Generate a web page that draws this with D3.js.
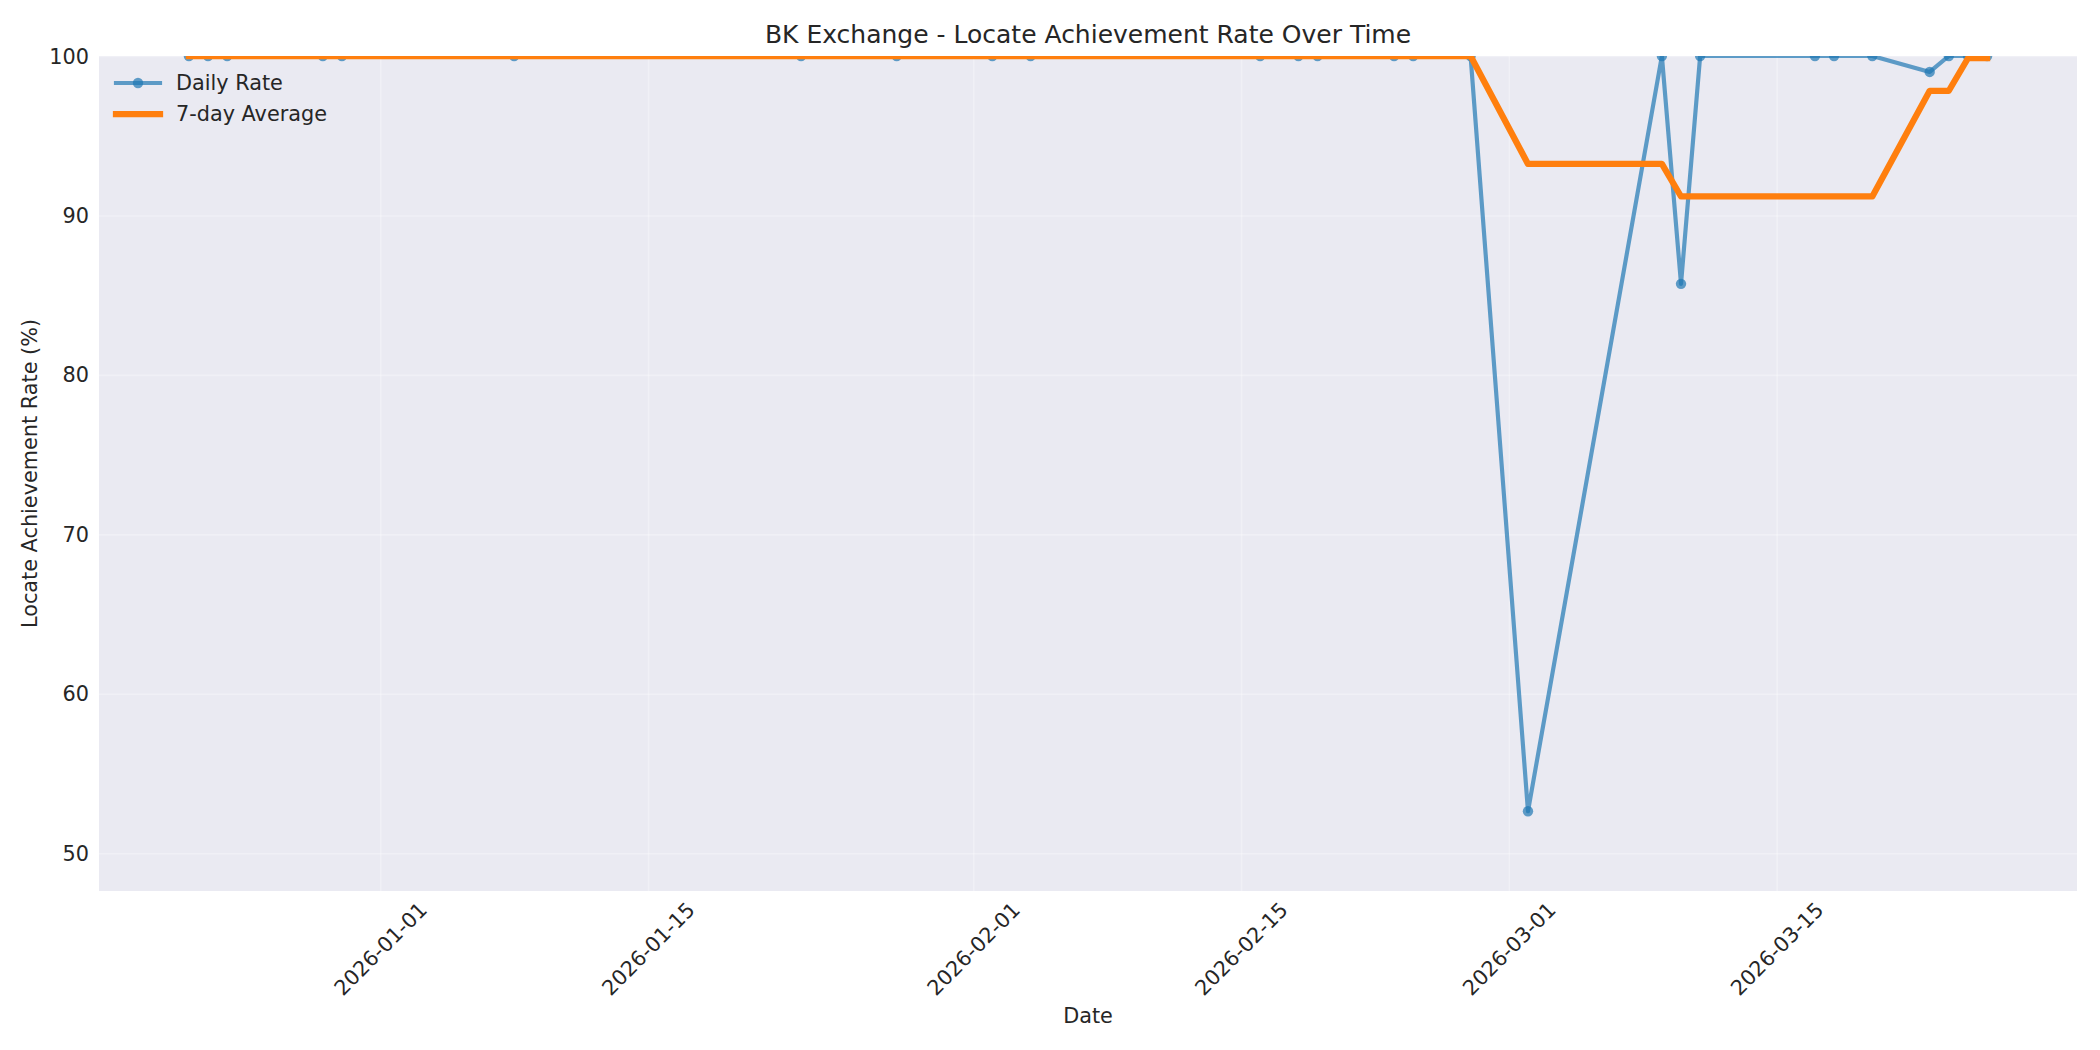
<!DOCTYPE html>
<html>
<head>
<meta charset="utf-8">
<script src="https://cdn.jsdelivr.net/npm/d3@7/dist/d3.min.js"></script>
<style>
  html, body { margin: 0; padding: 0; background: #ffffff; }
  svg { display: block; font-family: "DejaVu Sans", "Liberation Sans", sans-serif; }
</style>
</head>
<body>
<svg id="chart" width="2100" height="1050"></svg>
<script>
// ---------------- data ----------------
const dates = [
  "2025-12-22","2025-12-23","2025-12-24","2025-12-29","2025-12-30",
  "2026-01-08","2026-01-23","2026-01-28","2026-02-02","2026-02-04",
  "2026-02-16","2026-02-18","2026-02-19","2026-02-23","2026-02-24",
  "2026-02-27","2026-03-02","2026-03-09","2026-03-10","2026-03-11",
  "2026-03-17","2026-03-18","2026-03-20","2026-03-23","2026-03-24",
  "2026-03-25","2026-03-26"
];
const dailyRate = [
  100,100,100,100,100,
  100,100,100,100,100,
  100,100,100,100,100,
  100,52.63,100,85.71,100,
  100,100,100,99.0,100,
  100,100
];
const avg7 = [
  100,100,100,100,100,
  100,100,100,100,100,
  100,100,100,100,100,
  100,93.23,93.23,91.19,91.19,
  91.19,91.19,91.19,97.82,97.82,
  99.86,99.86
];
const xTickLabels = ["2026-01-01","2026-01-15","2026-02-01","2026-02-15","2026-03-01","2026-03-15"];
const yTickValues = [50,60,70,80,90,100];
const seriesNames = ["Daily Rate","7-day Average"];
const titleText = "BK Exchange - Locate Achievement Rate Over Time";
const xLabelText = "Date";
const yLabelText = "Locate Achievement Rate (%)";

// ---------------- layout ----------------
const plot = { left: 99, right: 2077, top: 56, bottom: 891 };
const textColor = "#262626";
const blue = "#1f77b4", orange = "#ff7f0e";
const fontTick = 20.8, fontTitle = 25;

const svg = d3.select("#chart");
const parse = d3.timeParse("%Y-%m-%d");
const xDates = dates.map(parse);
const ext = d3.extent(xDates);
const pad = (ext[1] - ext[0]) * 0.05;

const x = d3.scaleTime()
  .domain([new Date(+ext[0] - pad), new Date(+ext[1] + pad)])
  .range([plot.left, plot.right]);
const y = d3.scaleLinear()
  .domain([d3.min(dailyRate) - 5, 100])
  .range([plot.bottom, plot.top]);

const xTickDates = xTickLabels.map(parse);

// background
svg.append("rect")
  .attr("x", plot.left).attr("y", plot.top)
  .attr("width", plot.right - plot.left).attr("height", plot.bottom - plot.top)
  .attr("fill", "#eaeaf2");

// grid
const gx = svg.append("g")
  .attr("transform", `translate(0,${plot.bottom})`)
  .call(d3.axisBottom(x).tickValues(xTickDates).tickSize(-(plot.bottom - plot.top)).tickFormat(""));
const gy = svg.append("g")
  .attr("transform", `translate(${plot.left},0)`)
  .call(d3.axisLeft(y).tickValues(yTickValues).tickSize(-(plot.right - plot.left)).tickFormat(""));
[gx, gy].forEach(g => {
  g.select(".domain").remove();
  g.selectAll(".tick line")
    .attr("stroke", "#ffffff").attr("stroke-opacity", 0.3).attr("stroke-width", 1.6);
});

// x tick labels
const xAxisG = svg.append("g")
  .attr("transform", `translate(0,${plot.bottom})`)
  .call(d3.axisBottom(x).tickValues(xTickDates).tickSize(0).tickFormat(d3.timeFormat("%Y-%m-%d")));
xAxisG.select(".domain").remove();
xAxisG.selectAll(".tick text")
  .attr("y", null).attr("dy", null)
  .attr("text-anchor", "middle")
  .attr("dominant-baseline", "central")
  .attr("transform", "translate(0,58) rotate(-45)")
  .attr("fill", textColor)
  .style("font-size", fontTick + "px")
  .style("font-family", "DejaVu Sans");

// y tick labels
const yAxisG = svg.append("g")
  .attr("transform", `translate(${plot.left},0)`)
  .call(d3.axisLeft(y).tickValues(yTickValues).tickSize(0).tickPadding(10).tickFormat(d3.format("d")));
yAxisG.select(".domain").remove();
yAxisG.selectAll(".tick text")
  .attr("dy", null)
  .attr("dominant-baseline", "central")
  .attr("fill", textColor)
  .style("font-size", fontTick + "px")
  .style("font-family", "DejaVu Sans");

// clip
svg.append("defs").append("clipPath").attr("id", "clip")
  .append("rect")
  .attr("x", plot.left).attr("y", plot.top)
  .attr("width", plot.right - plot.left).attr("height", plot.bottom - plot.top);

const rows = xDates.map((d, i) => ({ date: d, rate: dailyRate[i], avg: avg7[i] }));
const dataG = svg.append("g").attr("clip-path", "url(#clip)");

// daily rate line + markers
dataG.append("path")
  .datum(rows)
  .attr("fill", "none")
  .attr("stroke", blue)
  .attr("stroke-opacity", 0.7)
  .attr("stroke-width", 4.17)
  .attr("stroke-linejoin", "round")
  .attr("stroke-linecap", "square")
  .attr("d", d3.line().x(d => x(d.date)).y(d => y(d.rate)));
dataG.append("g").selectAll("circle")
  .data(rows).join("circle")
  .attr("cx", d => x(d.date))
  .attr("cy", d => y(d.rate))
  .attr("r", 5.2)
  .attr("fill", blue)
  .attr("fill-opacity", 0.7);

// 7-day average
dataG.append("path")
  .datum(rows)
  .attr("fill", "none")
  .attr("stroke", orange)
  .attr("stroke-width", 6.25)
  .attr("stroke-linejoin", "round")
  .attr("stroke-linecap", "square")
  .attr("d", d3.line().x(d => x(d.date)).y(d => y(d.avg)));

// legend
const leg = svg.append("g");
const legRows = [83, 114];
const hx0 = 116, hx1 = 160, tx = 176;
leg.append("line").attr("x1", hx0).attr("x2", hx1).attr("y1", legRows[0]).attr("y2", legRows[0])
  .attr("stroke", blue).attr("stroke-opacity", 0.7).attr("stroke-width", 4.17).attr("stroke-linecap", "square");
leg.append("circle").attr("cx", (hx0 + hx1) / 2).attr("cy", legRows[0]).attr("r", 5.2)
  .attr("fill", blue).attr("fill-opacity", 0.7);
leg.append("line").attr("x1", hx0).attr("x2", hx1).attr("y1", legRows[1]).attr("y2", legRows[1])
  .attr("stroke", orange).attr("stroke-width", 6.25).attr("stroke-linecap", "square");
seriesNames.forEach((name, i) => {
  leg.append("text").attr("x", tx).attr("y", legRows[i])
    .attr("dominant-baseline", "central")
    .attr("fill", textColor)
    .style("font-size", fontTick + "px")
    .text(name);
});

// title & labels
svg.append("text")
  .attr("x", (plot.left + plot.right) / 2).attr("y", 43)
  .attr("text-anchor", "middle").attr("fill", textColor)
  .style("font-size", fontTitle + "px")
  .text(titleText);
svg.append("text")
  .attr("x", (plot.left + plot.right) / 2).attr("y", 1023)
  .attr("text-anchor", "middle").attr("fill", textColor)
  .style("font-size", fontTick + "px")
  .text(xLabelText);
svg.append("text")
  .attr("transform", `translate(37,${(plot.top + plot.bottom) / 2}) rotate(-90)`)
  .attr("text-anchor", "middle").attr("fill", textColor)
  .style("font-size", fontTick + "px")
  .text(yLabelText);
</script>
</body>
</html>
